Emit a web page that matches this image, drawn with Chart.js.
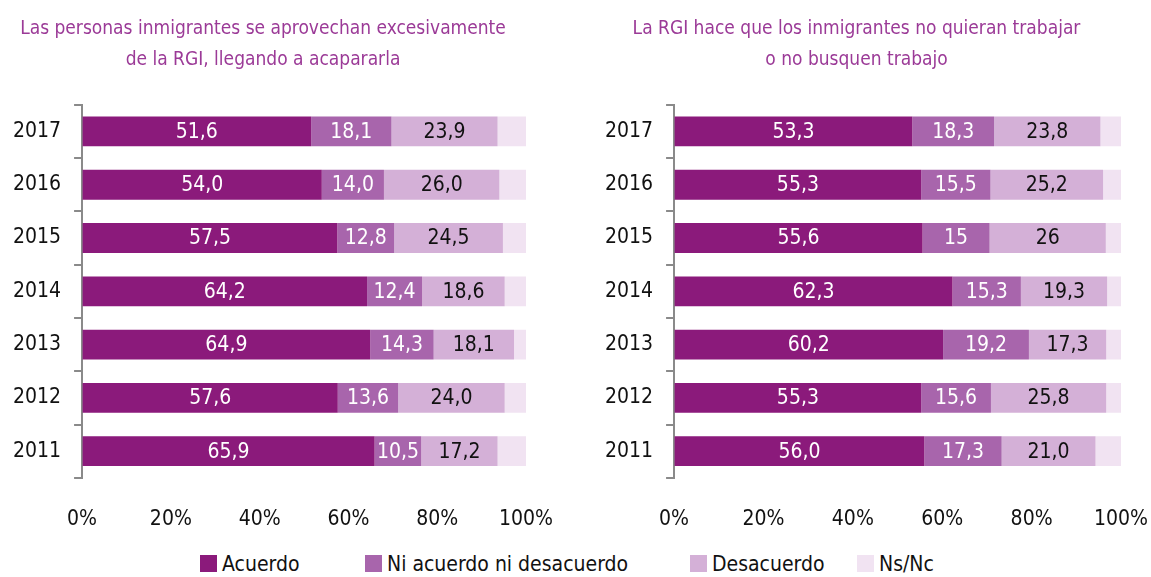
<!DOCTYPE html>
<html>
<head>
<meta charset="utf-8">
<script src="https://cdn.jsdelivr.net/npm/chart.js@4"></script>
<style>
  body { margin: 0; background: #fff; width: 1151px; height: 577px; overflow: hidden; position: relative; }
  .box { position: absolute; top: 0; height: 535px; }
  #legend { position: absolute; top: 552px; left: 0; width: 1151px; height: 26px;
            font-family: 'Liberation Sans Narrow', 'DejaVu Sans Condensed', sans-serif; font-size: 21px; color: #111; }
  #legend span.item { position: absolute; top: 0; white-space: nowrap; }
  #legend i { display: inline-block; width: 17px; height: 17px; margin-right: 5px; vertical-align: -1px; }
</style>
</head>
<body>
<div class="box" style="left:0;width:580px"><canvas id="chartLeft"></canvas></div>
<div class="box" style="left:580px;width:571px"><canvas id="chartRight"></canvas></div>
<div id="legend"></div>
<script>
(() => {
  'use strict'

  const years = ['2017', '2016', '2015', '2014', '2013', '2012', '2011'];
  const seriesNames = ['Acuerdo', 'Ni acuerdo ni desacuerdo', 'Desacuerdo', 'Ns/Nc'];
  const colors = ['#8B1A7B', '#A865AC', '#D4B0D7', '#F1E3F2'];
  const labelColors = ['#ffffff', '#ffffff', '#111111', null];
  const xTicks = ['0%', '20%', '40%', '60%', '80%', '100%'];

  const titleLeft = ['Las personas inmigrantes se aprovechan excesivamente', 'de la RGI, llegando a acapararla'];
  // values kept as printed strings so labels keep their precision
  const leftAcuerdo = ['51.6', '54.0', '57.5', '64.2', '64.9', '57.6', '65.9'];
  const leftNi = ['18.1', '14.0', '12.8', '12.4', '14.3', '13.6', '10.5'];
  const leftDes = ['23.9', '26.0', '24.5', '18.6', '18.1', '24.0', '17.2'];
  const leftNsnc = ['6.4', '6.0', '5.2', '4.8', '2.7', '4.8', '6.4'];

  const titleRight = ['La RGI hace que los inmigrantes no quieran trabajar', 'o no busquen trabajo'];
  const rightAcuerdo = ['53.3', '55.3', '55.6', '62.3', '60.2', '55.3', '56.0'];
  const rightNi = ['18.3', '15.5', '15', '15.3', '19.2', '15.6', '17.3'];
  const rightDes = ['23.8', '25.2', '26', '19.3', '17.3', '25.8', '21.0'];
  const rightNsnc = ['4.6', '4.0', '3.4', '3.1', '3.3', '3.3', '5.7'];

  const font = "'Liberation Sans Narrow', 'DejaVu Sans Condensed', sans-serif";

  // draws the value inside every segment
  const barLabels = {
    id: 'barLabels',
    afterDatasetsDraw(chart) {
      const ctx = chart.ctx;
      ctx.save();
      ctx.font = '21px ' + font;
      ctx.textAlign = 'center';
      ctx.textBaseline = 'middle';
      chart.data.datasets.forEach((ds, i) => {
        if (!labelColors[i]) return;
        ctx.fillStyle = labelColors[i];
        chart.getDatasetMeta(i).data.forEach((bar, j) => {
          const x = (bar.x + bar.base) / 2;
          ctx.fillText(ds.raw[j].replace('.', ','), x, bar.y + 1);
        });
      });
      ctx.restore();
    }
  };

  function makeChart(id, title, series, padLeft, padRight) {
    const datasets = series.map((vals, i) => ({
      label: seriesNames[i],
      data: vals.map(v => parseFloat(v)),
      raw: vals,
      backgroundColor: colors[i],
      borderWidth: 0,
      barPercentage: 0.56,
      categoryPercentage: 1
    }));
    return new Chart(document.getElementById(id), {
      type: 'bar',
      data: { labels: years, datasets: datasets },
      plugins: [barLabels],
      options: {
        indexAxis: 'y',
        responsive: true,
        maintainAspectRatio: false,
        animation: false,
        layout: { padding: { left: padLeft, right: padRight, top: 0, bottom: 0 } },
        plugins: {
          legend: { display: false },
          tooltip: { enabled: false },
          title: {
            display: true,
            text: title,
            color: '#9B3A97',
            font: { family: font, size: 19, weight: 'normal', lineHeight: 1.6 },
            padding: { top: 14, bottom: 30 }
          }
        },
        scales: {
          x: {
            stacked: true,
            min: 0,
            max: 100,
            border: { display: false },
            // invisible tick marks only push the labels down
            grid: { drawOnChartArea: false, color: 'rgba(0,0,0,0)', tickLength: 26 },
            ticks: {
              stepSize: 20,
              color: '#111',
              font: { family: font, size: 21 },
              padding: 3,
              callback: (v, i) => xTicks[i]
            }
          },
          y: {
            stacked: true,
            border: { display: true, color: '#8a8a8a', width: 2 },
            grid: { offset: true, drawOnChartArea: false, color: '#8a8a8a', lineWidth: 2, tickLength: 8 },
            ticks: { color: '#111', font: { family: font, size: 21 }, padding: 13 }
          }
        }
      }
    });
  }

  makeChart('chartLeft', titleLeft, [leftAcuerdo, leftNi, leftDes, leftNsnc], 0, 54);
  makeChart('chartRight', titleRight, [rightAcuerdo, rightNi, rightDes, rightNsnc], 12, 30);

  // shared legend under both charts
  const legendLeft = [200, 365, 690, 857];
  const legend = document.getElementById('legend');
  seriesNames.forEach((name, i) => {
    const item = document.createElement('span');
    item.className = 'item';
    item.style.left = legendLeft[i] + 'px';
    item.innerHTML = '<i style="background:' + colors[i] + '"></i>' + name;
    legend.appendChild(item);
  });
})()
</script>
</body>
</html>
